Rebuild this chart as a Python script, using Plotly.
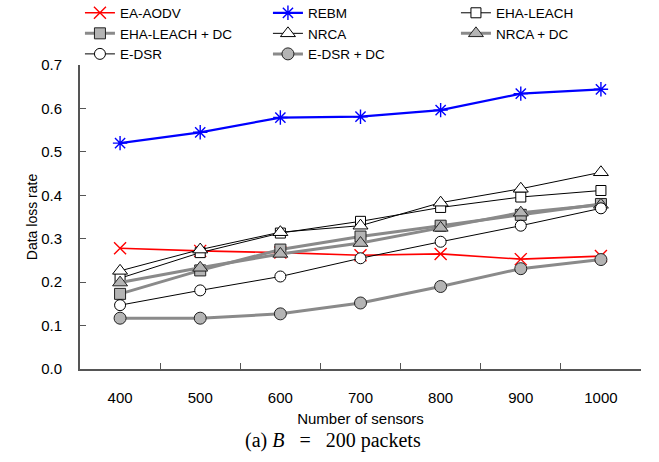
import plotly.graph_objects as go

sensors = ["400", "500", "600", "700", "800", "900", "1000"]

ea_aodv = [0.278, 0.272, 0.268, 0.262, 0.265, 0.253, 0.260]
rebm = [0.520, 0.545, 0.579, 0.581, 0.596, 0.634, 0.644]
eha_leach = [0.209, 0.268, 0.313, 0.340, 0.372, 0.396, 0.411]
eha_leach_dc = [0.173, 0.227, 0.275, 0.305, 0.330, 0.355, 0.380]
nrca = [0.226, 0.275, 0.315, 0.330, 0.383, 0.415, 0.453]
nrca_dc = [0.199, 0.233, 0.265, 0.290, 0.325, 0.360, 0.378]
e_dsr = [0.147, 0.181, 0.213, 0.255, 0.293, 0.330, 0.370]
e_dsr_dc = [0.117, 0.117, 0.127, 0.152, 0.190, 0.231, 0.252]

y_ticks = [0.0, 0.1, 0.2, 0.3, 0.4, 0.5, 0.6, 0.7]

GRAY_LINE = "#8a8a8a"
GRAY_FILL = "#b4b4b4"

series = [
    ("EA-AODV", ea_aodv, dict(color="red", width=1.6),
     dict(symbol="x-thin-open", size=12, color="red", line=dict(color="red", width=1.4))),
    ("REBM", rebm, dict(color="blue", width=2.2),
     dict(symbol="asterisk-open", size=12, color="blue", line=dict(color="blue", width=1.4))),
    ("EHA-LEACH", eha_leach, dict(color="black", width=1),
     dict(symbol="square", size=10, color="white", line=dict(color="black", width=1))),
    ("EHA-LEACH + DC", eha_leach_dc, dict(color=GRAY_LINE, width=3),
     dict(symbol="square", size=11, color=GRAY_FILL, line=dict(color="#222", width=1))),
    ("NRCA", nrca, dict(color="black", width=1),
     dict(symbol="triangle-up", size=13, color="white", line=dict(color="black", width=1))),
    ("NRCA + DC", nrca_dc, dict(color=GRAY_LINE, width=3),
     dict(symbol="triangle-up", size=13, color=GRAY_FILL, line=dict(color="#222", width=1))),
    ("E-DSR", e_dsr, dict(color="black", width=1),
     dict(symbol="circle", size=11, color="white", line=dict(color="black", width=1))),
    ("E-DSR + DC", e_dsr_dc, dict(color=GRAY_LINE, width=3),
     dict(symbol="circle", size=12, color=GRAY_FILL, line=dict(color="#222", width=1))),
]

fig = go.Figure()
for name, vals, line, marker in series:
    fig.add_trace(go.Scatter(x=sensors, y=vals, name=name, mode="lines+markers",
                             line=line, marker=marker))

SANS = "Liberation Sans, Arial, sans-serif"
tick_font = dict(family=SANS, size=15, color="black")
title_font = dict(family=SANS, size=15, color="black")

fig.update_layout(
    width=659, height=462,
    margin=dict(l=80, r=18, t=65, b=93, autoexpand=False),
    plot_bgcolor="white", paper_bgcolor="white",
    font=tick_font,
    showlegend=True,
    legend=dict(
        orientation="h", xref="paper", yref="paper",
        x=-0.0001, y=1.222, xanchor="left", yanchor="top",
        entrywidth=143, itemwidth=30, tracegroupgap=0,
        font=dict(family=SANS, size=13.5, color="black"),
        bgcolor="rgba(0,0,0,0)",
    ),
    xaxis=dict(
        type="category", range=[-0.5, 6.5], tickson="boundaries",
        ticks="inside", ticklen=6, tickcolor="#555", tickwidth=1,
        showline=True, linecolor="#555", linewidth=2, showgrid=False,
        ticklabelstandoff=14,
        tickfont=tick_font, title=dict(text="Number of sensors", font=title_font, standoff=8),
    ),
    yaxis=dict(
        range=[0, 0.7], tickvals=y_ticks, tickformat=".1f",
        ticks="inside", ticklen=6, tickcolor="#555", tickwidth=1,
        showline=True, linecolor="#555", linewidth=2, showgrid=False, zeroline=False,
        ticklabelstandoff=13,
        tickfont=tick_font, title=dict(text="Data loss rate", font=dict(family=SANS, size=14, color="black"), standoff=0),
    ),
    annotations=[dict(
        text="(a) <i>B</i>&nbsp;&nbsp;&nbsp;=&nbsp;&nbsp;&nbsp;200&nbsp;packets", xref="paper", yref="paper",
        x=0.451, y=0, yshift=-58, xanchor="center", yanchor="top", showarrow=False,
        font=dict(family="Liberation Serif, DejaVu Serif, serif", size=20, color="black"),
    )],
)

fig.write_html("out.html")
